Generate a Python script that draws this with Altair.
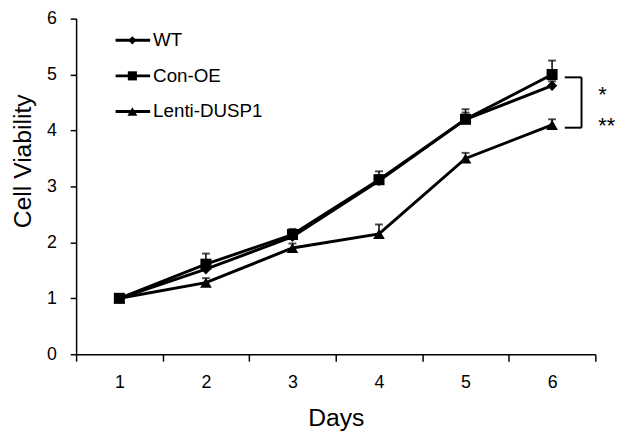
import altair as alt
import pandas as pd

# ---- data ----
days = [1, 2, 3, 4, 5, 6]
series = ["WT", "Con-OE", "Lenti-DUSP1"]
shapes = ["diamond", "square", "triangle-up"]

wt = [1.0, 1.52, 2.1, 3.1, 4.2, 4.8]
wt_err = [0.03, 0.1, 0.08, 0.1, 0.12, 0.08]
con_oe = [1.0, 1.61, 2.14, 3.12, 4.2, 5.0]
con_oe_err = [0.03, 0.19, 0.1, 0.15, 0.18, 0.25]
lenti = [1.0, 1.28, 1.9, 2.15, 3.5, 4.1]
lenti_err = [0.03, 0.08, 0.08, 0.17, 0.1, 0.1]

bracket_y = [4.95, 4.05]
stars = ["*", "**"]

y_ticks = [0, 1, 2, 3, 4, 5, 6]

FONT = "Liberation Sans"

rows = []
for name, vals, errs in [("WT", wt, wt_err), ("Con-OE", con_oe, con_oe_err), ("Lenti-DUSP1", lenti, lenti_err)]:
    for d, v, e in zip(days, vals, errs):
        rows.append({"day": d, "series": name, "value": v, "top": v + e})
df = pd.DataFrame(rows)

x_enc = alt.X(
    "day:O",
    scale=alt.Scale(type="band", paddingInner=0, paddingOuter=0, domain=days),
    axis=alt.Axis(
        title="Days", labelAngle=0, tickBand="extent", tickSize=7, tickWidth=1.5,
        tickColor="black", domainColor="black", domainWidth=1.5,
        labelFont=FONT, labelFontSize=18, labelColor="black", labelPadding=13,
        titleFont=FONT, titleFontSize=25, titleFontWeight="normal", titleColor="black",
        titlePadding=14,
    ),
)
y_scale = alt.Scale(domain=[0, 6], nice=False, zero=True)
y_enc = alt.Y(
    "value:Q",
    scale=y_scale,
    axis=alt.Axis(
        title="Cell Viability", values=y_ticks, format="d", grid=False, tickSize=6, tickWidth=1.5,
        tickColor="black", domainColor="black", domainWidth=1.5,
        labelFont=FONT, labelFontSize=18, labelColor="black", labelPadding=14,
        titleFont=FONT, titleFontSize=25, titleFontWeight="normal", titleColor="black",
        titlePadding=11, titleY=144,
    ),
)

shape_enc = alt.Shape("series:N", scale=alt.Scale(domain=series, range=shapes), legend=None)

lines = alt.Chart(df).mark_line(color="black", strokeWidth=3).encode(
    x=x_enc, y=y_enc, detail="series:N"
)
err_rules = alt.Chart(df).mark_rule(color="black", strokeWidth=1.5).encode(
    x=x_enc, y=alt.Y("value:Q", scale=y_scale), y2="top:Q"
)
err_caps = alt.Chart(df).mark_tick(color="black", orient="horizontal", thickness=2, size=8).encode(
    x=x_enc, y=alt.Y("top:Q", scale=y_scale)
)
points = alt.Chart(df).mark_point(filled=True, opacity=1, color="black").encode(
    x=x_enc, y=alt.Y("value:Q", scale=y_scale), shape=shape_enc,
    size=alt.Size("series:N", scale=alt.Scale(domain=series, range=[110, 140, 130]), legend=None),
)
main = alt.layer(lines, err_rules, err_caps, points)

# ---- legend (drawn inside plot, top-left) ----
leg_df = pd.DataFrame({"series": series})
leg_y = alt.Y("series:N", scale=alt.Scale(type="point", domain=series, range=[22, 94], padding=0), axis=None)
leg_rule = alt.Chart(leg_df).mark_rule(color="black", strokeWidth=3).encode(
    x=alt.value(40), x2=alt.value(75), y=leg_y
)
leg_pt = alt.Chart(leg_df).mark_point(filled=True, opacity=1, color="black").encode(
    x=alt.value(57), y=leg_y, shape=shape_enc,
    size=alt.Size("series:N", scale=alt.Scale(domain=series, range=[70, 100, 100]), legend=None),
)
leg_txt = alt.Chart(leg_df).mark_text(align="left", baseline="middle", font=FONT, fontSize=19, color="black").encode(
    x=alt.value(78), y=leg_y, text="series:N"
)
legend = alt.layer(leg_rule, leg_pt, leg_txt)

# ---- significance bracket ----
br_df = pd.DataFrame({"y": bracket_y})
br_y = alt.Y("y:Q", scale=alt.Scale(domain=[0, 6], nice=False), axis=None)
br_h = alt.Chart(br_df).mark_rule(color="black", strokeWidth=2).encode(
    x=alt.value(495), x2=alt.value(512), y=br_y
)
br_v = alt.Chart(pd.DataFrame({"y": [bracket_y[0]], "y2": [bracket_y[1]]})).mark_rule(color="black", strokeWidth=2).encode(
    x=alt.value(512), y=br_y, y2="y2:Q"
)
st_df = pd.DataFrame({"label": stars, "pos": stars})
st_y = alt.Y("pos:N", scale=alt.Scale(type="point", domain=stars, range=[84, 116], padding=0), axis=None)
st_txt = alt.Chart(st_df).mark_text(align="left", baseline="alphabetic", font=FONT, fontSize=22, color="black").encode(
    x=alt.value(529), y=st_y, text="label:N"
)
bracket = alt.layer(br_h, br_v, st_txt).resolve_scale(y="independent")

chart = alt.layer(main, legend, bracket).resolve_scale(
    y="independent", shape="independent", size="independent"
).properties(
    width=526, height=340,
    padding={"left": 69, "top": 8, "right": 27, "bottom": 75},
    autosize=alt.AutoSizeParams(type="none"),
    background="white",
).configure_view(stroke=None)

chart.save("out.html", embed_options={"renderer": "svg", "actions": False})
